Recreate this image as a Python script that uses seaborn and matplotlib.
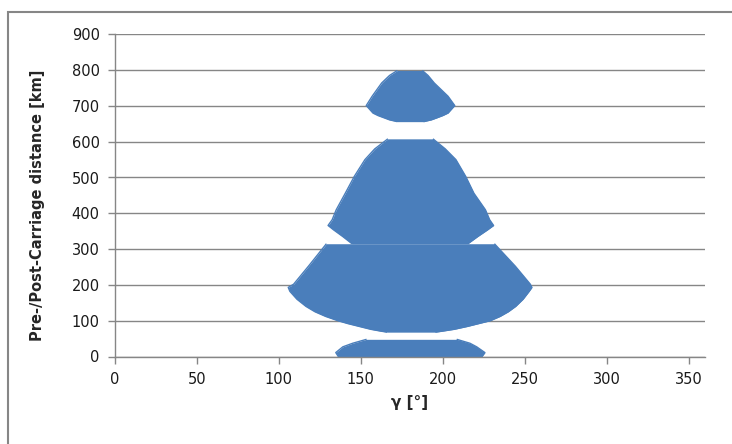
import numpy as np
import pandas as pd
import matplotlib
matplotlib.use("Agg")
import matplotlib.pyplot as plt
import seaborn as sns
from matplotlib.patches import Rectangle

# Feasible region, read off the picture as outline of each blob:
# distance [km] (ascending) with the left / right gamma bound [deg]
blob1_dist = [-9, 11, 27, 37, 48]
blob1_left = [137.5, 134.7, 139.0, 145.0, 153.5]
blob1_right = [222.5, 225.7, 220.7, 216.6, 208.5]

blob2_dist = [68, 71, 76, 84, 92, 100, 112, 125, 140, 160, 182, 193, 202, 252, 315]
blob2_left = [166.0, 162.0, 156.0, 149.0, 142.0, 136.0, 128.5, 122.0, 116.5, 111.0, 106.7, 105.7, 109.0, 118.0, 129.0]
blob2_right = [195.5, 200.0, 207.0, 215.0, 222.0, 229.0, 235.0, 240.0, 244.5, 249.0, 252.7, 254.4, 253.4, 244.3, 231.5]

blob3_dist = [315, 335, 354, 366, 382, 410, 456, 503, 550, 580, 608]
blob3_left = [144.6, 139.0, 133.3, 130.0, 132.5, 135.0, 140.5, 146.0, 152.5, 158.5, 166.5]
blob3_right = [215.3, 221.3, 227.4, 231.0, 228.6, 226.0, 219.0, 214.0, 208.0, 201.5, 194.0]

blob4_dist = [656, 661, 666, 673, 680, 701, 727, 764, 785, 799]
blob4_left = [172.3, 167.5, 164.6, 160.5, 157.4, 153.3, 156.9, 162.7, 167.5, 172.3]
blob4_right = [188.3, 193.0, 196.0, 200.0, 203.2, 207.3, 203.2, 194.8, 191.0, 187.5]

x_ticks = [0, 50, 100, 150, 200, 250, 300, 350]
y_ticks = [0, 100, 200, 300, 400, 500, 600, 700, 800, 900]

blue = "#4a7ebb"
grey = "#868686"

sns.set_style("white")
plt.rcParams['font.family'] = ['DejaVu Sans']

fig = plt.figure(figsize=(7.32, 4.44), dpi=100)
ax = fig.add_axes([115 / 732, 1 - 356.5 / 444, 590 / 732, 322.2 / 444])

blobs = [
    (blob1_dist, blob1_left, blob1_right),
    (blob2_dist, blob2_left, blob2_right),
    (blob3_dist, blob3_left, blob3_right),
    (blob4_dist, blob4_left, blob4_right),
]
for dist, left, right in blobs:
    ax.fill_betweenx(dist, left, right, color=blue, lw=0, zorder=3)
    edge = pd.DataFrame({"dist": dist + dist, "gamma": left + right,
                         "side": ["l"] * len(dist) + ["r"] * len(dist)})
    sns.lineplot(data=edge, x="gamma", y="dist", units="side", estimator=None,
                 orient="y", sort=False, color=blue, lw=1.0, ax=ax, zorder=3,
                 solid_capstyle="butt", solid_joinstyle="round")

ax.set_xlim(0, 360)
ax.set_ylim(0, 900)
ax.set_xticks(x_ticks)
ax.set_yticks(y_ticks)
ax.grid(axis="y", color=grey, lw=1)
ax.grid(axis="x", visible=False)
ax.set_axisbelow(True)

for side in ["top", "right"]:
    ax.spines[side].set_visible(False)
ax.spines["left"].set_color(grey)
ax.spines["bottom"].set_color(grey)
ax.spines["left"].set_linewidth(1)
ax.spines["bottom"].set_linewidth(1)
ax.spines["bottom"].set_zorder(5)

ax.tick_params(axis="both", which="both", direction="out", length=5, width=1,
               color=grey, labelsize=10.5, labelcolor="#1a1a1a", pad=6,
               left=True, bottom=True)

ax.set_xlabel("γ [°]", fontsize=11, fontweight="bold", labelpad=6)
ax.set_ylabel("Pre-/Post-Carriage distance [km]", fontsize=10.5, fontweight="bold")
ax.yaxis.set_label_coords(-0.118, 0.47)

# outer chart border
fig.patches.append(Rectangle((8 / 732, -0.2), 1.2, 1 - 12 / 444 + 0.2,
                             transform=fig.transFigure, fill=False,
                             edgecolor=grey, lw=1.5))

fig.savefig("out.png", dpi=100)
